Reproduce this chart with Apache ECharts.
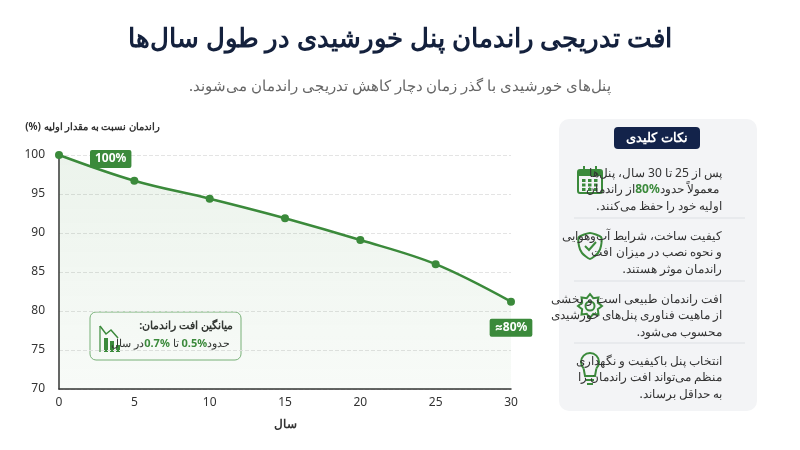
<!DOCTYPE html>
<html><head><meta charset="utf-8">
<script src="https://cdn.jsdelivr.net/npm/echarts@6/dist/echarts.min.js"></script>
<style>html,body{margin:0;background:#fff}#c{width:800px;height:450px}</style>
</head><body>
<div id="c" dir="rtl"></div>
<script>
const years = [0, 5, 10, 15, 20, 25, 30];
const efficiency = [100, 96.7, 94.4, 91.9, 89.1, 86.0, 81.2];
const yTicks = [70, 75, 80, 85, 90, 95, 100];
const title = 'افت تدریجی راندمان پنل خورشیدی در طول سال‌ها';
const subtitle = 'پنل‌های خورشیدی با گذر زمان دچار کاهش تدریجی راندمان می‌شوند.';
const G = '#3b8a3b';
const F = '"Noto Sans","Inter",sans-serif';
const chart = echarts.init(document.getElementById('c'));
const tip = (lines, y) => ({type:'text', x: 722, y: y, style:{
  text: lines, align:'right', font:'12px '+F, fill:'#333', lineHeight:16.5,
  rich:{t:{font:'12px '+F, fill:'#333', lineHeight:16.5}, g:{font:'bold 12px '+F, fill:G, lineHeight:16.5}}}});
const sep = y => ({type:'line', shape:{x1:574,y1:y,x2:745,y2:y}, style:{stroke:'#dde0e4', lineWidth:1}});
const ic = {stroke:G, fill:'none', lineWidth:2};
const gearPts = [];
for(let i=0;i<16;i++){const a=i*Math.PI/8,r=(i%2?8.5:12);gearPts.push([590+r*Math.cos(a),306+r*Math.sin(a)]);}
chart.setOption({
  animation:false,
  textStyle:{fontFamily:F},
  title:[
    {text:title, left:'center', top:22, textStyle:{fontSize:26, fontWeight:'bold', color:'#14213d', fontFamily:F}},
    {text:subtitle, left:'center', top:74, textStyle:{fontSize:15, fontWeight:'normal', color:'#666', fontFamily:F}}
  ],
  grid:{left:59, right:289, top:155, bottom:61},
  xAxis:{type:'value', min:0, max:30, interval:5,
    name:'سال', nameLocation:'middle', nameGap:30, nameTextStyle:{fontSize:12, fontWeight:'bold', color:'#333'},
    axisLine:{lineStyle:{color:'#333', width:1.5}}, axisTick:{show:false},
    axisLabel:{color:'#333', fontSize:12, margin:8}, splitLine:{show:false}},
  yAxis:{type:'value', min:yTicks[0], max:yTicks[yTicks.length-1], interval:5,
    axisLine:{show:true, lineStyle:{color:'#333', width:1.5}}, axisTick:{show:false},
    axisLabel:{color:'#333', fontSize:12, margin:14},
    splitLine:{lineStyle:{type:'dashed', color:'#e4e4e4'}}},
  series:[{type:'line', smooth:0.35, symbol:'circle', symbolSize:8,
    data: years.map((x,i)=>{
      const d={value:[x,efficiency[i]]};
      if(i===0) d.label={show:true, formatter:'100%', position:'right', offset:[22,4]};
      if(i===years.length-1) d.label={show:true, formatter:'\u202A≈80%\u202C', position:'bottom', offset:[0,8]};
      return d;}),
    label:{show:false, color:'#fff', backgroundColor:G, fontWeight:'bold', fontSize:12, padding:[3,5], borderRadius:2},
    lineStyle:{color:G, width:2.5}, itemStyle:{color:G},
    areaStyle:{color:new echarts.graphic.LinearGradient(0,0,0,1,[{offset:0,color:'rgba(59,138,59,0.14)'},{offset:1,color:'rgba(59,138,59,0.05)'}])}
  }],
  graphic:[
    {type:'text', x:160, y:122, style:{text:'راندمان نسبت به مقدار اولیه (%)', align:'right', font:'bold 10px '+F, fill:'#333'}},
    {type:'rect', shape:{x:90,y:312,width:151,height:48,r:6}, style:{fill:'#fff', stroke:'#7bb27b', lineWidth:1}},
    {type:'polyline', shape:{points:[[100,326],[106,334],[111,330],[118,338]]}, style:{stroke:G, lineWidth:1.5, fill:'none'}},
    {type:'rect', shape:{x:104,y:338,width:4,height:14}, style:{fill:G}},
    {type:'rect', shape:{x:110,y:341,width:4,height:11}, style:{fill:G}},
    {type:'rect', shape:{x:116,y:345,width:4,height:7}, style:{fill:G}},
    {type:'line', shape:{x1:100,y1:326,x2:100,y2:352}, style:{stroke:G, lineWidth:1.2}},
    {type:'text', x:233, y:320, style:{text:'میانگین افت راندمان:', align:'right', font:'bold 11px '+F, fill:'#333'}},
    {type:'text', x:233, y:338, style:{text:'{t|در سال }{g|0.7%}{t| تا }{g|0.5%}{t| حدود}', align:'right',
      rich:{t:{font:'11px '+F, fill:'#333'}, g:{font:'bold 11px '+F, fill:G}}}},
    {type:'rect', shape:{x:559,y:119,width:198,height:292,r:10}, style:{fill:'#f3f4f6'}},
    {type:'rect', shape:{x:614,y:127,width:86,height:22,r:4}, style:{fill:'#13234a'}},
    {type:'text', x:657, y:138, style:{text:'نکات کلیدی', align:'center', verticalAlign:'middle', font:'bold 13px '+F, fill:'#fff'}},
    {type:'rect', shape:{x:578,y:170,width:24,height:23,r:2}, style:ic},
    {type:'rect', shape:{x:578,y:170,width:24,height:6}, style:{fill:G}},
    {type:'line', shape:{x1:584,y1:166,x2:584,y2:172}, style:{stroke:G,lineWidth:2}},
    {type:'line', shape:{x1:596,y1:166,x2:596,y2:172}, style:{stroke:G,lineWidth:2}},
    ...[0,1,2].flatMap(r=>[0,1,2].map(c=>({type:'rect', shape:{x:582+c*6,y:179+r*4.5,width:3.5,height:3}, style:{fill:G}}))),
    {type:'polygon', shape:{points:[[590,233],[601,237],[601,246],[598,253],[590,259],[582,253],[579,246],[579,237]], smooth:0.2}, style:ic},
    {type:'polyline', shape:{points:[[585,246],[589,250],[596,242]]}, style:ic},
    {type:'circle', shape:{cx:590,cy:306,r:4.5}, style:ic},
    {type:'polygon', shape:{points:gearPts}, style:ic},
    {type:'arc', shape:{cx:590,cy:362,r:9,startAngle:Math.PI*0.75,endAngle:Math.PI*0.25}, style:ic},
    {type:'polyline', shape:{points:[[583.6,368.4],[585,376],[595,376],[596.4,368.4]]}, style:ic},
    {type:'line', shape:{x1:586,y1:380,x2:594,y2:380}, style:{stroke:G,lineWidth:2}},
    {type:'line', shape:{x1:587,y1:384,x2:593,y2:384}, style:{stroke:G,lineWidth:2}},
    sep(218), sep(281), sep(343),
    tip('{t|پس از 25 تا 30 سال، پنل‌ها}\n{t|از راندمان }{g|80%}{t| معمولاً حدود}\n{t|اولیه خود را حفظ می‌کنند.}', 165),
    tip('{t|کیفیت ساخت، شرایط آب‌وهوایی}\n{t|و نحوه نصب در میزان افت}\n{t|راندمان موثر هستند.}', 228),
    tip('{t|افت راندمان طبیعی است و بخشی}\n{t|از ماهیت فناوری پنل‌های خورشیدی}\n{t|محسوب می‌شود.}', 291),
    tip('{t|انتخاب پنل باکیفیت و نگهداری}\n{t|منظم می‌تواند افت راندمان را}\n{t|به حداقل برساند.}', 353)
  ]
});
</script></body></html>
